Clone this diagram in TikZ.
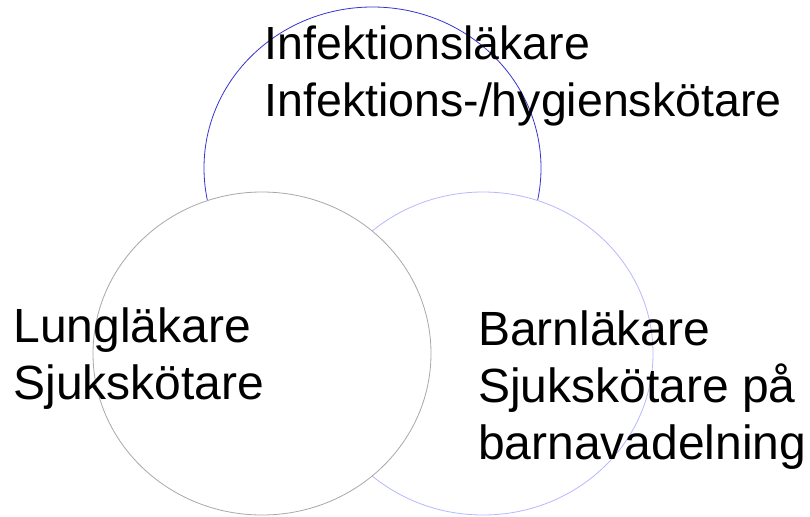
\documentclass[tikz,border=0pt]{standalone}
\usepackage{fontspec}
\setmainfont{Liberation Sans}
\definecolor{topblue}{HTML}{3434D0}
\definecolor{lavline}{HTML}{B8B8FF}
\definecolor{grayline}{HTML}{A8A8A8}
\tikzset{
  setcircle/.style={line width=0.8pt, fill=white},
  lbl/.style={anchor=base west, inner sep=0pt, outer sep=0pt, font=\fontsize{48}{57}\selectfont, text=black},
  toplbl/.style={lbl, font=\fontsize{46.5}{56}\selectfont}
}
\begin{document}
\begin{tikzpicture}[x=1pt,y=-1pt]
\useasboundingbox (0,0) rectangle (810,516);
\fill[white] (0,0) rectangle (810,516);
% sets
\draw[setcircle, draw=topblue] (372.5,168) ellipse [x radius=168.5pt, y radius=161pt];
\draw[setcircle, draw=lavline] (483,353.5) ellipse [x radius=170pt, y radius=161.5pt];
\draw[setcircle, draw=grayline] (262,353.5) ellipse [x radius=169pt, y radius=161.5pt];
% labels
\node[toplbl] (t1) at (264.5,59.5) {Infektionsläkare};
\node[toplbl] (t2) at (264.5,117) {Infektions-/hygienskötare};
\node[lbl] (l1) at (13.5,342) {Lungläkare};
\node[lbl] (l2) at (13.5,399) {Sjukskötare};
\node[lbl] (r1) at (478,345) {Barnläkare};
\node[lbl] (r2) at (478,402.5) {Sjukskötare på};
\node[lbl] (r3) at (478,459.5) {barnavadelning};
\end{tikzpicture}
\end{document}
